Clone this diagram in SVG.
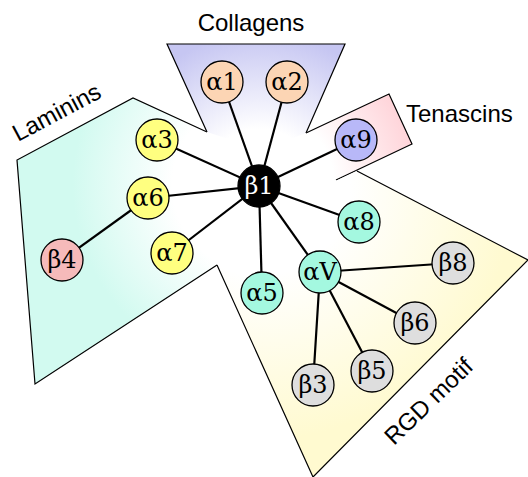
<svg xmlns="http://www.w3.org/2000/svg" width="528" height="477" viewBox="0 0 528 477">
<defs>
<radialGradient id="gCol" gradientUnits="userSpaceOnUse" cx="260" cy="185" r="160"><stop offset="0.35" stop-color="#ffffff"/><stop offset="0.95" stop-color="#c6c6f2"/></radialGradient>
<radialGradient id="gLam" gradientUnits="userSpaceOnUse" cx="260" cy="185" r="250"><stop offset="0.35" stop-color="#ffffff"/><stop offset="0.75" stop-color="#d2faf0"/></radialGradient>
<radialGradient id="gTen" gradientUnits="userSpaceOnUse" cx="260" cy="185" r="165"><stop offset="0.45" stop-color="#ffffff"/><stop offset="1" stop-color="#ffd0d6"/></radialGradient>
<radialGradient id="gRgd" gradientUnits="userSpaceOnUse" cx="260" cy="185" r="300"><stop offset="0.3" stop-color="#ffffff"/><stop offset="0.85" stop-color="#fffad0"/></radialGradient>
<style>
.edge{stroke:#000;stroke-width:2.2;fill:none}
.outline{stroke:#000;stroke-width:1.2;fill:none}
.node circle{stroke:#000;stroke-width:1.3}
.node text{font-family:"DejaVu Serif","Liberation Serif",serif;font-size:24px;text-anchor:middle;fill:#000}
.lbl{font-family:"Liberation Sans",Arial,sans-serif;font-size:24px;fill:#000}
</style>
</defs>
<g id="regions">
<polygon points="167,44 345,44 306,133 262,150 207,132" fill="url(#gCol)"/>
<polyline class="outline" points="207,132 167,44 345,44 306,133"/>
<polygon points="17,160 133,98 207,132 230,185 217,265 35,384" fill="url(#gLam)"/>
<polyline class="outline" points="207,132 133,98 17,160 35,384 217,265"/>
<polygon points="306,133 389,94 412,144 336,180" fill="url(#gTen)"/>
<polyline class="outline" points="306,133 389,94 412,144 336,180"/>
<polygon points="357,171 528,260 313,477 217,265 262,215" fill="url(#gRgd)"/>
<polyline class="outline" points="357,171 528,260 313,477 217,265"/>
</g>
<g id="labels">
<text class="lbl" x="251" y="31" text-anchor="middle">Collagens</text>
<text class="lbl" x="406" y="122">Tenascins</text>
<text class="lbl" x="18" y="142" transform="rotate(-28 18 142)">Laminins</text>
<text class="lbl" x="394" y="446" transform="rotate(-44 394 446)">RGD motif</text>
</g>
<g id="connectors">
<line class="edge" x1="259" y1="186" x2="222" y2="82"/>
<line class="edge" x1="259" y1="186" x2="287" y2="82"/>
<line class="edge" x1="259" y1="186" x2="157" y2="140"/>
<line class="edge" x1="259" y1="186" x2="148" y2="198"/>
<line class="edge" x1="259" y1="186" x2="172" y2="253"/>
<line class="edge" x1="259" y1="186" x2="356" y2="140"/>
<line class="edge" x1="259" y1="186" x2="359" y2="222"/>
<line class="edge" x1="259" y1="186" x2="262" y2="293"/>
<line class="edge" x1="259" y1="186" x2="320" y2="272"/>
<line class="edge" x1="148" y1="198" x2="62" y2="260"/>
<line class="edge" x1="320" y1="272" x2="453" y2="263"/>
<line class="edge" x1="320" y1="272" x2="415" y2="323"/>
<line class="edge" x1="320" y1="272" x2="372" y2="371"/>
<line class="edge" x1="320" y1="272" x2="313" y2="385"/>
</g>
<g id="n_a1" class="node"><circle cx="222" cy="82" r="21" fill="#fcd5b4"/><text x="222" y="90">α1</text></g>
<g id="n_a2" class="node"><circle cx="287" cy="82" r="21" fill="#fcd5b4"/><text x="287" y="90">α2</text></g>
<g id="n_a3" class="node"><circle cx="157" cy="140" r="21" fill="#ffff80"/><text x="157" y="148">α3</text></g>
<g id="n_a6" class="node"><circle cx="148" cy="198" r="21" fill="#ffff80"/><text x="148" y="206">α6</text></g>
<g id="n_a7" class="node"><circle cx="172" cy="253" r="21" fill="#ffff80"/><text x="172" y="261">α7</text></g>
<g id="n_b4" class="node"><circle cx="62" cy="260" r="21" fill="#f6baba"/><text x="62" y="268">β4</text></g>
<g id="n_a9" class="node"><circle cx="356" cy="140" r="21" fill="#b8b8f8"/><text x="356" y="148">α9</text></g>
<g id="n_a8" class="node"><circle cx="359" cy="222" r="21" fill="#a4f8e0"/><text x="359" y="230">α8</text></g>
<g id="n_a5" class="node"><circle cx="262" cy="293" r="21" fill="#a4f8e0"/><text x="262" y="301">α5</text></g>
<g id="n_aV" class="node"><circle cx="320" cy="272" r="21" fill="#a4f8e0"/><text x="320" y="280">αV</text></g>
<g id="n_b8" class="node"><circle cx="453" cy="263" r="21" fill="#dedede"/><text x="453" y="271">β8</text></g>
<g id="n_b6" class="node"><circle cx="415" cy="323" r="21" fill="#dedede"/><text x="415" y="331">β6</text></g>
<g id="n_b5" class="node"><circle cx="372" cy="371" r="21" fill="#dedede"/><text x="372" y="379">β5</text></g>
<g id="n_b3" class="node"><circle cx="313" cy="385" r="21" fill="#dedede"/><text x="313" y="393">β3</text></g>
<g id="n_b1" class="node"><circle cx="259" cy="186" r="21" fill="#000"/><text x="259" y="194" style="fill:#fff">β1</text></g>
</svg>
